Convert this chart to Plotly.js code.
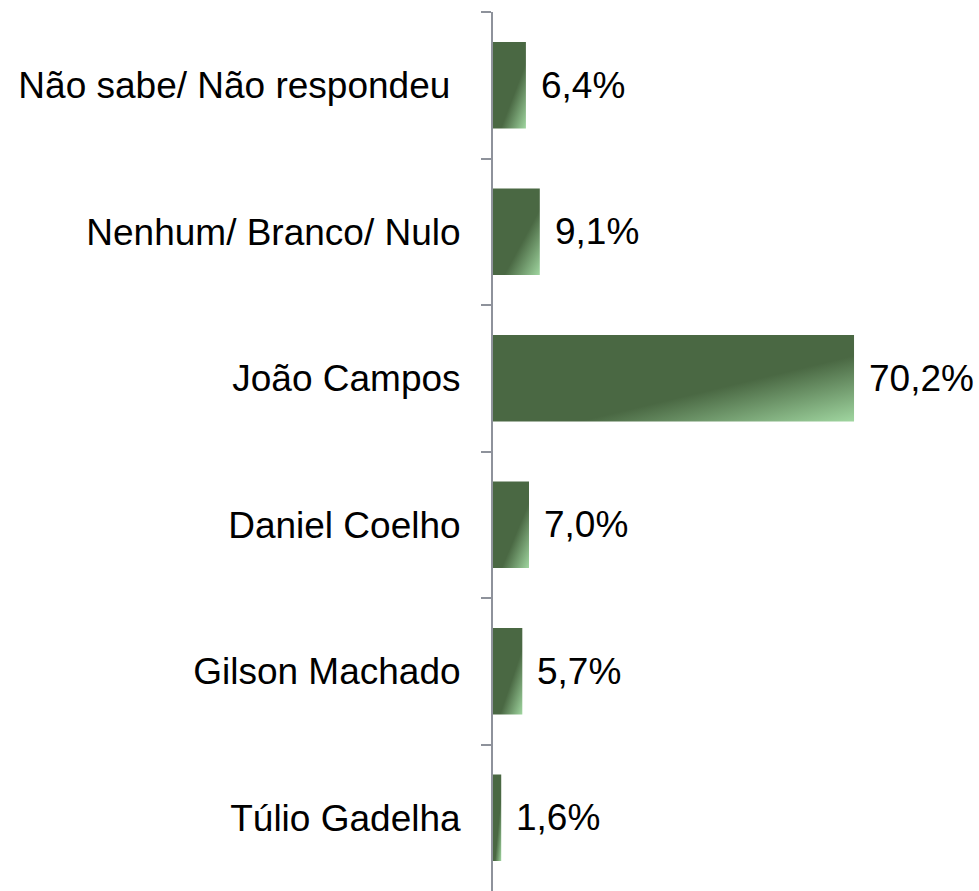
<!DOCTYPE html>
<html>
<head>
<meta charset="utf-8">
<script src="https://cdn.plot.ly/plotly-3.0.1.min.js"></script>
<style>html,body{margin:0;padding:0;background:#fff;}#chart{width:979px;height:891px;}</style>
</head>
<body>
<div id="chart"></div>
<script>
// Categories listed top to bottom
const categories = [
  "Não sabe/ Não respondeu\u00a0",
  "Nenhum/ Branco/ Nulo",
  "João Campos",
  "Daniel Coelho",
  "Gilson Machado",
  "Túlio Gadelha"
];
const values = [6.4, 9.1, 70.2, 7.0, 5.7, 1.6];
const valueLabels = ["6,4%", "9,1%", "70,2%", "7,0%", "5,7%", "1,6%"];

const FONT = "'Liberation Sans', Arial, sans-serif";

const trace = {
  type: "bar",
  orientation: "h",
  y: categories,
  x: values,
  marker: { color: "#4a6843", line: { width: 0 } },
  hoverinfo: "none",
  cliponaxis: false
};

const annotations = values.map((v, i) => ({
  x: v, y: categories[i], xref: "x", yref: "y",
  text: valueLabels[i], showarrow: false,
  xanchor: "left", yanchor: "middle", xshift: 13,
  font: { family: FONT, size: 37, color: "#000" }
}));

const layout = {
  width: 979, height: 891,
  margin: { l: 493, r: 0, t: 12, b: 0, pad: 0 },
  paper_bgcolor: "#fff", plot_bgcolor: "#fff",
  showlegend: false,
  bargap: 0.41,
  font: { family: FONT, size: 37, color: "#000" },
  xaxis: {
    range: [0, 94.5],
    visible: false, showgrid: false, zeroline: false, fixedrange: true
  },
  yaxis: {
    type: "category",
    autorange: "reversed",
    showline: true, linecolor: "#8e929b", linewidth: 2,
    ticks: "outside", tickson: "boundaries", ticklen: 10, tickwidth: 2, tickcolor: "#8e929b",
    ticklabelstandoff: 23,
    showgrid: false, zeroline: false, automargin: false,
    tickfont: { family: FONT, size: 37, color: "#000" }
  },
  annotations: annotations
};

Plotly.newPlot("chart", [trace], layout, { displayModeBar: false, staticPlot: true }).then(gd => {
  const svg = gd.querySelector(".main-svg");
  const ns = "http://www.w3.org/2000/svg";
  let defs = svg.querySelector("defs");
  if (!defs) { defs = document.createElementNS(ns, "defs"); svg.insertBefore(defs, svg.firstChild); }
  const grad = document.createElementNS(ns, "linearGradient");
  grad.setAttribute("id", "barGrad");
  grad.setAttribute("x1", "0"); grad.setAttribute("y1", "0");
  grad.setAttribute("x2", "1"); grad.setAttribute("y2", "1");
  [["0", "#4a6843"], ["0.62", "#4a6843"], ["1", "#a0d6a0"]].forEach(([o, c]) => {
    const s = document.createElementNS(ns, "stop");
    s.setAttribute("offset", o); s.setAttribute("stop-color", c);
    grad.appendChild(s);
  });
  defs.appendChild(grad);
  gd.querySelectorAll(".barlayer .point path").forEach(p => { p.style.fill = "url(#barGrad)"; });
});
</script>
</body>
</html>
